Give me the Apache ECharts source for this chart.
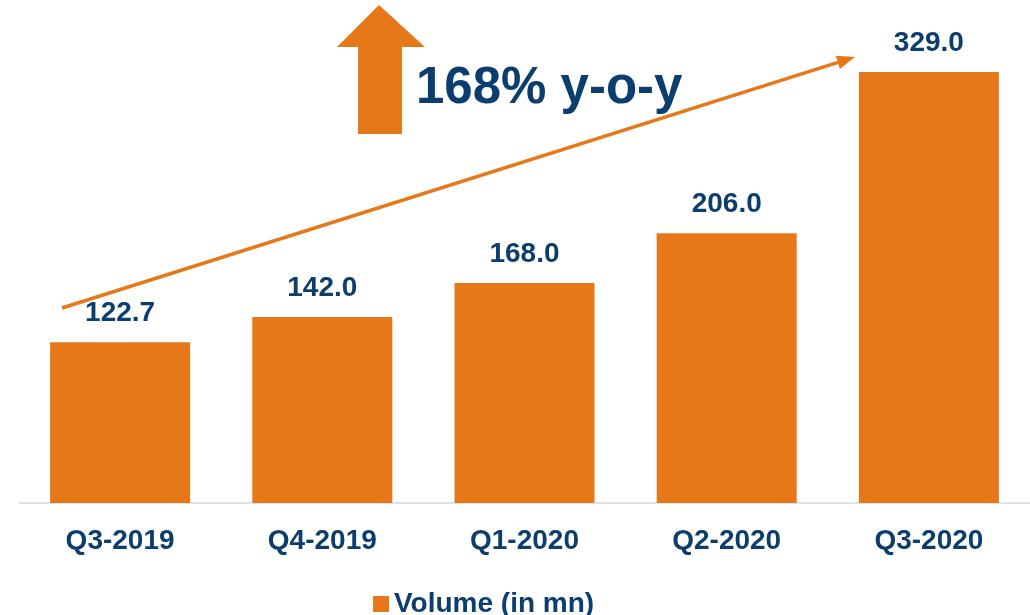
<!DOCTYPE html>
<html><head><meta charset="utf-8">
<script src="https://cdn.jsdelivr.net/npm/echarts@6/dist/echarts.min.js"></script>
<style>html,body{margin:0;padding:0;background:#fff}#c{width:1030px;height:615px}</style>
</head><body><div id="c"></div>
<script>
const categories = ['Q3-2019','Q4-2019','Q1-2020','Q2-2020','Q3-2020'];
const volume = [122.7, 142.0, 168.0, 206.0, 329.0];
const seriesName = 'Volume (in mn)';
const headline = '168% y-o-y';

const ORANGE = '#E6781A';
const NAVY = '#0B3D6E';
const FONT = '"Liberation Sans", Arial, sans-serif';

const chart = echarts.init(document.getElementById('c'));
chart.setOption({
  animation: false,
  grid: {left: 19, right: 0, top: 44.5, bottom: 112},
  legend: {
    data: [seriesName], left: 368, top: 585,
    icon: 'rect', itemWidth: 16, itemHeight: 16, itemGap: 8,
    textStyle: {color: NAVY, fontSize: 28, fontWeight: 'bold', fontFamily: FONT}
  },
  xAxis: {
    type: 'category', data: categories,
    axisLine: {lineStyle: {color: '#D9D9D9', width: 1.5}},
    axisTick: {show: false},
    axisLabel: {color: NAVY, fontSize: 28, fontWeight: 'bold', fontFamily: FONT, margin: 24}
  },
  yAxis: {type: 'value', min: 0, max: 350, show: false, splitLine: {show: false}},
  series: [{
    name: seriesName, type: 'bar', data: volume, barWidth: 140,
    itemStyle: {color: ORANGE},
    label: {show: true, position: 'top', distance: 15, color: NAVY, fontSize: 28,
      fontWeight: 'bold', fontFamily: FONT, formatter: p => p.value.toFixed(1)}
  }],
  graphic: [
    {type: 'polygon', shape: {points: [[337,47],[379,5],[425,47],[402,47],[402,134],[358,134],[358,47]]},
      style: {fill: ORANGE}},
    {type: 'text', left: 416, top: 63, style: {text: headline, fill: NAVY, fontSize: 51,
      fontWeight: 'bold', fontFamily: FONT}},
    {type: 'line', shape: {x1: 62, y1: 308, x2: 838, y2: 62.4},
      style: {stroke: ORANGE, lineWidth: 3.5}},
    {type: 'polygon', shape: {points: [[855,57],[839.9,69.1],[835.7,55.7]]}, style: {fill: ORANGE}}
  ]
});
</script></body></html>
